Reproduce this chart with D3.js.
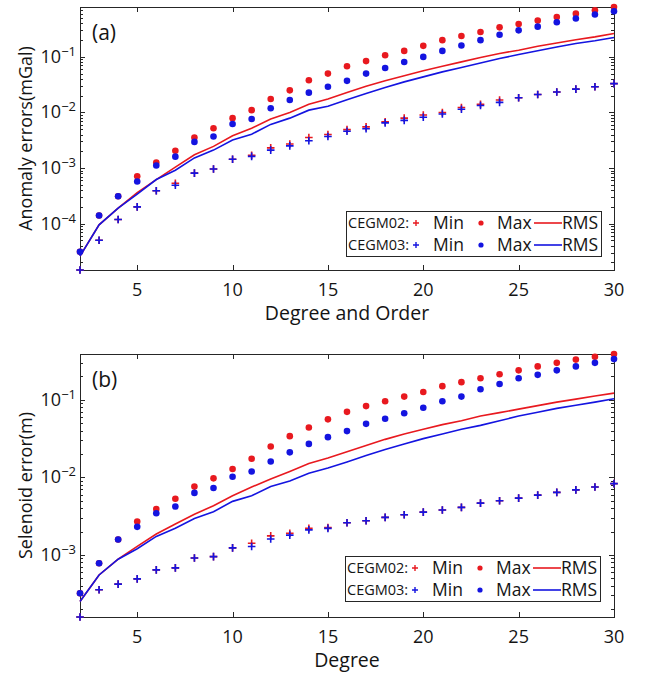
<!DOCTYPE html>
<html>
<head>
<meta charset="utf-8">
<script src="https://cdn.jsdelivr.net/npm/d3@7"></script>
<style>
  body { margin: 0; background: #fff; }
  svg text { font-family: "Open Sans", "Noto Sans", sans-serif; fill: #141414; }
</style>
</head>
<body>
<svg id="chart" width="648" height="675"></svg>
<script>
// degrees 2..30
const degrees = d3.range(2, 31);

// panel (a) anomaly errors (mGal)
const aMin02 = [1.46e-5, 5.0e-5, 1.18e-4, 2.0e-4, 3.9e-4, 5.3e-4, 8.1e-4, 9.6e-4, 1.44e-3, 1.7e-3, 2.3e-3, 2.7e-3, 3.55e-3, 4.0e-3, 4.9e-3, 5.5e-3, 6.8e-3, 7.9e-3, 9.0e-3, 1.0e-2, 1.23e-2, 1.4e-2, 1.67e-2, 1.84e-2, 2.1e-2, 2.33e-2, 2.63e-2, 2.9e-2, 3.3e-2];
const aMin03 = [1.46e-5, 5.0e-5, 1.18e-4, 2.0e-4, 3.9e-4, 4.9e-4, 8.1e-4, 9.6e-4, 1.44e-3, 1.62e-3, 2.1e-3, 2.5e-3, 3.1e-3, 3.7e-3, 4.6e-3, 5.1e-3, 6.5e-3, 7.2e-3, 8.2e-3, 9.4e-3, 1.14e-2, 1.33e-2, 1.52e-2, 1.84e-2, 2.1e-2, 2.33e-2, 2.63e-2, 2.9e-2, 3.3e-2];
const aMax02 = [3.1e-5, 1.4e-4, 3.1e-4, 7.1e-4, 1.26e-3, 2.04e-3, 3.55e-3, 5.2e-3, 7.9e-3, 1.1e-2, 1.74e-2, 2.5e-2, 3.8e-2, 5.0e-2, 6.8e-2, 8.4e-2, 0.107, 0.128, 0.158, 0.2, 0.238, 0.28, 0.34, 0.39, 0.45, 0.52, 0.6, 0.69, 0.79];
const aMax03 = [3.1e-5, 1.4e-4, 3.1e-4, 5.7e-4, 1.11e-3, 1.6e-3, 2.95e-3, 3.7e-3, 6.2e-3, 7.6e-3, 1.19e-2, 1.67e-2, 2.27e-2, 2.9e-2, 3.7e-2, 5.0e-2, 6.3e-2, 8.1e-2, 0.1, 0.128, 0.16, 0.2, 0.25, 0.3, 0.35, 0.42, 0.49, 0.58, 0.66];
const aRms02 = [2.6e-5, 9.5e-5, 1.9e-4, 3.6e-4, 6.2e-4, 1.04e-3, 1.73e-3, 2.45e-3, 3.8e-3, 5.2e-3, 7.6e-3, 1.0e-2, 1.4e-2, 1.75e-2, 2.29e-2, 2.95e-2, 3.72e-2, 4.57e-2, 5.62e-2, 6.76e-2, 8.13e-2, 9.77e-2, 0.115, 0.132, 0.155, 0.178, 0.204, 0.229, 0.263];
const aRms03 = [2.6e-5, 9.5e-5, 1.9e-4, 3.4e-4, 6.2e-4, 9.1e-4, 1.52e-3, 2.1e-3, 3.2e-3, 4.06e-3, 6.1e-3, 7.9e-3, 1.1e-2, 1.29e-2, 1.7e-2, 2.19e-2, 2.82e-2, 3.55e-2, 4.37e-2, 5.37e-2, 6.46e-2, 7.76e-2, 9.33e-2, 0.11, 0.129, 0.151, 0.174, 0.195, 0.224];

// panel (b) selenoid error (m)
const bMin02 = [1.58e-4, 3.55e-4, 4.2e-4, 4.9e-4, 6.4e-4, 6.8e-4, 9.1e-4, 9.5e-4, 1.23e-3, 1.41e-3, 1.76e-3, 1.9e-3, 2.2e-3, 2.25e-3, 2.6e-3, 2.75e-3, 3.05e-3, 3.3e-3, 3.56e-3, 3.8e-3, 4.1e-3, 4.65e-3, 5.0e-3, 5.4e-3, 5.9e-3, 6.4e-3, 6.9e-3, 7.5e-3, 8.3e-3];
const bMin03 = [1.58e-4, 3.55e-4, 4.2e-4, 4.9e-4, 6.4e-4, 6.8e-4, 9.1e-4, 9.5e-4, 1.23e-3, 1.28e-3, 1.6e-3, 1.8e-3, 2.1e-3, 2.2e-3, 2.6e-3, 2.75e-3, 3.05e-3, 3.3e-3, 3.56e-3, 3.8e-3, 4.1e-3, 4.65e-3, 5.0e-3, 5.4e-3, 5.9e-3, 6.4e-3, 6.9e-3, 7.5e-3, 8.3e-3];
const bMax02 = [3.2e-4, 7.8e-4, 1.58e-3, 2.7e-3, 3.9e-3, 5.3e-3, 7.6e-3, 9.7e-3, 1.28e-2, 1.74e-2, 2.5e-2, 3.4e-2, 4.4e-2, 5.6e-2, 7.0e-2, 8.3e-2, 9.6e-2, 0.11, 0.126, 0.15, 0.169, 0.19, 0.214, 0.24, 0.27, 0.3, 0.33, 0.36, 0.39];
const bMax03 = [3.2e-4, 7.8e-4, 1.58e-3, 2.3e-3, 3.45e-3, 4.2e-3, 6.3e-3, 7.3e-3, 1.02e-2, 1.19e-2, 1.6e-2, 2.1e-2, 2.7e-2, 3.3e-2, 3.95e-2, 4.9e-2, 5.7e-2, 6.7e-2, 7.9e-2, 9.6e-2, 0.11, 0.137, 0.16, 0.19, 0.21, 0.24, 0.27, 0.3, 0.335];
const bRms02 = [2.5e-4, 5.5e-4, 8.8e-4, 1.29e-3, 1.86e-3, 2.5e-3, 3.35e-3, 4.3e-3, 5.8e-3, 7.5e-3, 9.5e-3, 1.19e-2, 1.51e-2, 1.78e-2, 2.14e-2, 2.57e-2, 3.09e-2, 3.63e-2, 4.17e-2, 4.79e-2, 5.37e-2, 6.17e-2, 6.84e-2, 7.59e-2, 8.41e-2, 9.33e-2, 0.102, 0.112, 0.122];
const bRms03 = [2.5e-4, 5.5e-4, 8.8e-4, 1.2e-3, 1.73e-3, 2.2e-3, 2.95e-3, 3.6e-3, 4.9e-3, 5.8e-3, 7.6e-3, 9.0e-3, 1.13e-2, 1.32e-2, 1.58e-2, 1.91e-2, 2.29e-2, 2.69e-2, 3.16e-2, 3.63e-2, 4.17e-2, 4.68e-2, 5.37e-2, 6.17e-2, 6.92e-2, 7.76e-2, 8.51e-2, 9.33e-2, 0.103];

const xTicks = [5, 10, 15, 20, 25, 30];
const yTickExps = [-4, -3, -2, -1];

const RED = "#e8191f", BLUE = "#1414e0", AXIS = "#262626";
const svg = d3.select("#chart");

function panel(cfg) {
  const {top, bottom, left, right} = cfg;
  const g = svg.append("g");
  const x = d3.scaleLinear().domain([2, 30]).range([left, right]);
  const all = [].concat(...cfg.series.map(s => s.values));
  const y = d3.scaleLog().domain([d3.min(all), d3.max(all)]).range([bottom, top]);

  // minor log ticks
  const minor = [];
  const [lo, hi] = y.domain();
  for (let e = Math.floor(Math.log10(lo)); e <= Math.ceil(Math.log10(hi)); e++) {
    for (let m = 1; m <= 9; m++) {
      const v = m * Math.pow(10, e);
      if (v >= lo && v <= hi) minor.push({v, major: m === 1});
    }
  }
  const tg = g.append("g").attr("stroke", AXIS).attr("stroke-width", 1);
  minor.forEach(t => {
    const len = t.major ? 5 : 3;
    const yy = Math.round(y(t.v)) + 0.5;
    tg.append("line").attr("x1", left).attr("x2", left + len).attr("y1", yy).attr("y2", yy);
    tg.append("line").attr("x1", right).attr("x2", right - len).attr("y1", yy).attr("y2", yy);
  });
  xTicks.forEach(t => {
    const xx = Math.round(x(t)) + 0.5;
    tg.append("line").attr("x1", xx).attr("x2", xx).attr("y1", bottom).attr("y2", bottom - 5);
    tg.append("line").attr("x1", xx).attr("x2", xx).attr("y1", top).attr("y2", top + 5);
  });

  // x tick labels
  g.selectAll(".xl").data(xTicks).enter().append("text")
    .attr("x", d => x(d)).attr("y", bottom + 26)
    .attr("text-anchor", "middle").attr("font-size", 18).text(d => d);

  // y tick labels 10^n (only those inside the domain)
  yTickExps.filter(e => Math.pow(10, e) >= lo && Math.pow(10, e) <= hi).forEach(e => {
    const t = g.append("text").attr("x", left - 4).attr("y", y(Math.pow(10, e)) + 6)
      .attr("text-anchor", "end").attr("font-size", 18);
    t.append("tspan").text("10");
    t.append("tspan").attr("dy", -7).attr("font-size", 13).text("\u2212" + Math.abs(e));
  });

  // axis titles
  g.append("text").attr("x", (left + right) / 2).attr("y", bottom + 50)
    .attr("text-anchor", "middle").attr("font-size", 19.5).text(cfg.xTitle);
  g.append("text")
    .attr("transform", `translate(${cfg.yTitleX},${(top + bottom) / 2}) rotate(-90)`)
    .attr("text-anchor", "middle").attr("font-size", 18).text(cfg.yTitle);

  // box
  g.append("rect").attr("x", left + 0.5).attr("y", top + 0.5)
    .attr("width", right - left).attr("height", bottom - top)
    .attr("fill", "none").attr("stroke", AXIS).attr("stroke-width", 1);

  g.append("text").attr("x", left + 12).attr("y", top + 33)
    .attr("font-size", 21).text(cfg.label);

  // data
  const line = d3.line().x((d, i) => x(degrees[i])).y(d => y(d));
  cfg.series.forEach(s => {
    if (s.type === "line") {
      g.append("path").datum(s.values).attr("d", line)
        .attr("fill", "none").attr("stroke", s.color).attr("stroke-width", 1.6);
    } else if (s.type === "dot") {
      g.selectAll(null).data(s.values).enter().append("circle")
        .attr("cx", (d, i) => x(degrees[i])).attr("cy", d => y(d))
        .attr("r", 3.3).attr("fill", s.color);
    } else {
      g.selectAll(null).data(s.values).enter().append("path")
        .attr("d", (d, i) => {
          const cx = x(degrees[i]), cy = y(d);
          return `M${cx - 3.8},${cy}H${cx + 3.8}M${cx},${cy - 3.8}V${cy + 3.8}`;
        })
        .attr("stroke", s.color).attr("stroke-width", 1.6);
    }
  });

  // legend
  const lg = cfg.legend;
  g.append("rect").attr("x", lg.x + 0.5).attr("y", lg.y + 0.5)
    .attr("width", 255).attr("height", 45)
    .attr("fill", "#fff").attr("stroke", AXIS).attr("stroke-width", 1);
  [["CEGM02:", RED], ["CEGM03:", BLUE]].forEach(([name, col], r) => {
    const cy = lg.y + 12 + r * 22;
    g.append("text").attr("x", lg.x + 2).attr("y", cy + 5).attr("font-size", 14.5).text(name);
    const px = lg.x + 70;
    g.append("path").attr("d", `M${px - 3},${cy}H${px + 3}M${px},${cy - 3}V${cy + 3}`)
      .attr("stroke", col).attr("stroke-width", 1.4);
    g.append("text").attr("x", lg.x + 87).attr("y", cy + 6).attr("font-size", 17.5).text("Min");
    g.append("circle").attr("cx", lg.x + 135).attr("cy", cy).attr("r", 2.6).attr("fill", col);
    g.append("text").attr("x", lg.x + 151).attr("y", cy + 6).attr("font-size", 17.5).text("Max");
    g.append("line").attr("x1", lg.x + 188).attr("x2", lg.x + 216).attr("y1", cy).attr("y2", cy)
      .attr("stroke", col).attr("stroke-width", 1.6);
    g.append("text").attr("x", lg.x + 216).attr("y", cy + 6).attr("font-size", 17.5).text("RMS");
  });
}

panel({
  top: 7, bottom: 270, left: 80, right: 614, label: "(a)",
  xTitle: "Degree and Order", yTitle: "Anomaly errors(mGal)", yTitleX: 32,
  legend: {x: 346, y: 211},
  series: [
    {type: "plus", color: RED, values: aMin02},
    {type: "dot", color: RED, values: aMax02},
    {type: "line", color: RED, values: aRms02},
    {type: "plus", color: BLUE, values: aMin03},
    {type: "dot", color: BLUE, values: aMax03},
    {type: "line", color: BLUE, values: aRms03}
  ]
});

panel({
  top: 354, bottom: 617, left: 80, right: 614, label: "(b)",
  xTitle: "Degree", yTitle: "Selenoid error(m)", yTitleX: 32,
  legend: {x: 345, y: 556},
  series: [
    {type: "plus", color: RED, values: bMin02},
    {type: "dot", color: RED, values: bMax02},
    {type: "line", color: RED, values: bRms02},
    {type: "plus", color: BLUE, values: bMin03},
    {type: "dot", color: BLUE, values: bMax03},
    {type: "line", color: BLUE, values: bRms03}
  ]
});
</script>
</body>
</html>
